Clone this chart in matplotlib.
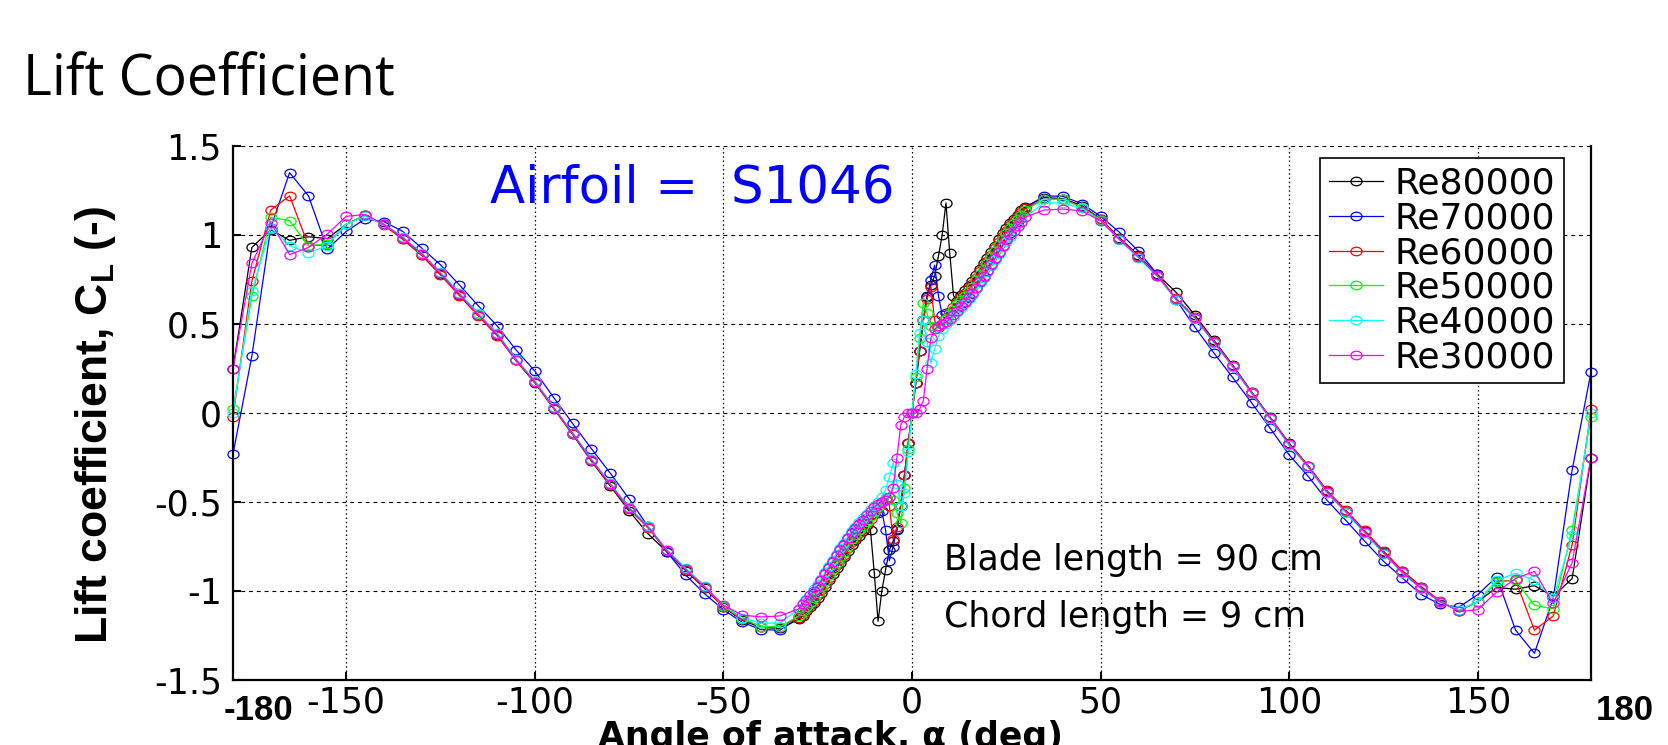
import numpy as np
import matplotlib
matplotlib.use('Agg')
import matplotlib.pyplot as plt
from matplotlib.path import Path
from matplotlib.transforms import Affine2D

plt.rcParams.update({
    'font.family': 'DejaVu Sans',
    'axes.unicode_minus': False,
    'mathtext.fontset': 'custom',
    'mathtext.rm': 'Liberation Sans:bold',
    'mathtext.it': 'Liberation Sans:bold',
    'mathtext.bf': 'Liberation Sans:bold',
})

# angle grids (deg): coarse 5 deg steps outside, 1 deg steps around zero
ANGLE_NEG = np.arange(-180, -34, 5)
ANGLE_FINE = np.arange(-30, 31, 1)
ANGLE_POS = np.arange(35, 181, 5)

LABELS = ['Re80000', 'Re70000', 'Re60000', 'Re50000', 'Re40000', 'Re30000']
COLORS = ['#000000', '#0000ff', '#ff0000', '#00ff00', '#00ffff', '#ff00ff']

# Re80000
k_neg = [0.25, 0.93, 1.03, 0.97, 0.99, 0.98, 1.06, 1.11, 1.06, 0.98, 0.89, 0.78, 0.665, 0.55, 0.44,
         0.295, 0.17, 0.025, -0.12, -0.27, -0.41, -0.55, -0.678, -0.78, -0.885, -0.985, -1.09, -1.165, -1.205, -1.21]
k_fine = [-1.16, -1.14, -1.115, -1.09, -1.065, -1.04, -1.01, -0.975, -0.94, -0.905, -0.87, -0.84, -0.81, -0.775, -0.74,
          -0.715, -0.69, -0.665, -0.63, -0.66, -0.90, -1.17, -1.0, -0.88, -0.77, -0.72, -0.66, -0.52, -0.35, -0.17,
          0.0,
          0.17, 0.35, 0.52, 0.66, 0.72, 0.77, 0.88, 1.0, 1.18, 0.90, 0.66, 0.63, 0.665, 0.69, 0.715,
          0.74, 0.775, 0.81, 0.84, 0.87, 0.905, 0.94, 0.975, 1.01, 1.04, 1.065, 1.09, 1.115, 1.14, 1.16]
k_pos = [1.21, 1.205, 1.165, 1.09, 0.985, 0.885, 0.78, 0.678, 0.55, 0.41, 0.27, 0.12, -0.025, -0.17, -0.295,
         -0.44, -0.55, -0.665, -0.78, -0.89, -0.98, -1.06, -1.11, -1.06, -0.98, -0.99, -0.97, -1.03, -0.93, -0.25]

# Re70000
b_neg = [-0.23, 0.32, 1.04, 1.35, 1.22, 0.92, 1.02, 1.09, 1.075, 1.02, 0.927, 0.833, 0.72, 0.603, 0.49,
         0.355, 0.236, 0.087, -0.058, -0.2, -0.338, -0.482, -0.637, -0.78, -0.91, -1.015, -1.105, -1.176, -1.217, -1.22]
b_fine = [-1.15, -1.115, -1.08, -1.045, -1.01, -0.975, -0.94, -0.90, -0.865, -0.83, -0.795, -0.765, -0.735, -0.70, -0.67,
          -0.645, -0.625, -0.61, -0.59, -0.575, -0.565, -0.56, -0.55, -0.66, -0.83, -0.75, -0.65, -0.52, -0.35, -0.17,
          0.0,
          0.17, 0.35, 0.52, 0.65, 0.75, 0.83, 0.66, 0.55, 0.56, 0.565, 0.575, 0.59, 0.61, 0.625, 0.645,
          0.67, 0.70, 0.735, 0.765, 0.795, 0.83, 0.865, 0.90, 0.94, 0.975, 1.01, 1.045, 1.08, 1.115, 1.15]
b_pos = [1.22, 1.217, 1.176, 1.105, 1.015, 0.91, 0.78, 0.637, 0.482, 0.338, 0.2, 0.058, -0.087, -0.236, -0.355,
         -0.49, -0.603, -0.72, -0.833, -0.927, -1.02, -1.075, -1.09, -1.02, -0.92, -1.22, -1.35, -1.04, -0.32, 0.23]

# Re60000
r_neg = [-0.02, 0.74, 1.14, 1.22, 0.94, 0.945, 1.06, 1.11, 1.055, 0.975, 0.885, 0.775, 0.66, 0.545, 0.435,
         0.295, 0.172, 0.028, -0.116, -0.265, -0.405, -0.54, -0.645, -0.776, -0.88, -0.98, -1.09, -1.16, -1.20, -1.20]
r_fine = [-1.15, -1.13, -1.105, -1.08, -1.055, -1.025, -0.995, -0.96, -0.925, -0.89, -0.855, -0.825, -0.795, -0.76, -0.725,
          -0.70, -0.675, -0.65, -0.625, -0.595, -0.565, -0.535, -0.50, -0.48, -0.52, -0.71, -0.64, -0.52, -0.35, -0.17,
          0.0,
          0.17, 0.35, 0.52, 0.64, 0.71, 0.52, 0.48, 0.50, 0.535, 0.565, 0.595, 0.625, 0.65, 0.675, 0.70,
          0.725, 0.76, 0.795, 0.825, 0.855, 0.89, 0.925, 0.96, 0.995, 1.025, 1.055, 1.08, 1.105, 1.13, 1.15]
r_pos = [1.20, 1.20, 1.16, 1.09, 0.98, 0.88, 0.776, 0.645, 0.54, 0.405, 0.265, 0.116, -0.028, -0.172, -0.295,
         -0.435, -0.545, -0.66, -0.775, -0.885, -0.975, -1.055, -1.11, -1.06, -0.945, -0.94, -1.22, -1.14, -0.74, 0.02]

# Re50000
g_neg = [0.02, 0.655, 1.10, 1.08, 0.94, 0.95, 1.06, 1.11, 1.06, 0.985, 0.895, 0.787, 0.67, 0.556, 0.445,
         0.30, 0.178, 0.03, -0.114, -0.262, -0.40, -0.535, -0.64, -0.772, -0.878, -0.975, -1.085, -1.155, -1.20, -1.20]
g_fine = [-1.14, -1.115, -1.09, -1.065, -1.04, -1.01, -0.98, -0.945, -0.91, -0.875, -0.84, -0.81, -0.78, -0.745, -0.71,
          -0.685, -0.66, -0.635, -0.61, -0.58, -0.555, -0.53, -0.50, -0.49, -0.47, -0.49, -0.56, -0.62, -0.42, -0.2,
          0.0,
          0.2, 0.42, 0.62, 0.56, 0.49, 0.47, 0.49, 0.50, 0.53, 0.555, 0.58, 0.61, 0.635, 0.66, 0.685,
          0.71, 0.745, 0.78, 0.81, 0.84, 0.875, 0.91, 0.945, 0.98, 1.01, 1.04, 1.065, 1.09, 1.115, 1.14]
g_pos = [1.20, 1.20, 1.155, 1.085, 0.975, 0.878, 0.772, 0.64, 0.535, 0.40, 0.262, 0.114, -0.03, -0.178, -0.30,
         -0.445, -0.556, -0.67, -0.787, -0.895, -0.985, -1.06, -1.11, -1.06, -0.95, -0.94, -1.08, -1.10, -0.655, -0.02]

# Re40000
c_neg = [0.0, 0.685, 1.04, 0.94, 0.90, 0.94, 1.06, 1.105, 1.06, 0.99, 0.90, 0.79, 0.675, 0.56, 0.45,
         0.305, 0.182, 0.035, -0.11, -0.258, -0.395, -0.53, -0.635, -0.768, -0.872, -0.97, -1.078, -1.15, -1.18, -1.18]
c_fine = [-1.10, -1.07, -1.045, -1.02, -0.99, -0.96, -0.93, -0.895, -0.86, -0.825, -0.79, -0.76, -0.73, -0.695, -0.665,
          -0.64, -0.615, -0.59, -0.565, -0.54, -0.52, -0.50, -0.47, -0.43, -0.36, -0.28, -0.40, -0.52, -0.45, -0.22,
          0.0,
          0.22, 0.45, 0.52, 0.40, 0.28, 0.36, 0.43, 0.47, 0.50, 0.52, 0.54, 0.565, 0.59, 0.615, 0.64,
          0.665, 0.695, 0.73, 0.76, 0.79, 0.825, 0.86, 0.895, 0.93, 0.96, 0.99, 1.02, 1.045, 1.07, 1.10]
c_pos = [1.18, 1.18, 1.15, 1.078, 0.97, 0.872, 0.768, 0.635, 0.53, 0.395, 0.258, 0.11, -0.035, -0.182, -0.305,
         -0.45, -0.56, -0.675, -0.79, -0.90, -0.99, -1.06, -1.105, -1.06, -0.94, -0.90, -0.94, -1.04, -0.685, 0.0]

# Re30000
m_neg = [0.25, 0.84, 1.07, 0.89, 0.93, 1.005, 1.105, 1.115, 1.06, 0.985, 0.895, 0.785, 0.668, 0.553, 0.443,
         0.30, 0.176, 0.03, -0.114, -0.262, -0.40, -0.535, -0.64, -0.772, -0.878, -0.975, -1.08, -1.135, -1.146, -1.14]
m_fine = [-1.10, -1.075, -1.05, -1.025, -1.0, -0.97, -0.94, -0.905, -0.87, -0.835, -0.80, -0.77, -0.74, -0.705, -0.675,
          -0.65, -0.625, -0.60, -0.575, -0.55, -0.53, -0.51, -0.50, -0.49, -0.47, -0.42, -0.25, -0.07, -0.02, 0.0,
          0.0,
          0.0, 0.02, 0.07, 0.25, 0.42, 0.47, 0.49, 0.50, 0.51, 0.53, 0.55, 0.575, 0.60, 0.625, 0.65,
          0.675, 0.705, 0.74, 0.77, 0.80, 0.835, 0.87, 0.905, 0.94, 0.97, 1.0, 1.025, 1.05, 1.075, 1.10]
m_pos = [1.14, 1.146, 1.135, 1.08, 0.975, 0.878, 0.772, 0.64, 0.535, 0.40, 0.262, 0.114, -0.03, -0.176, -0.30,
         -0.443, -0.553, -0.668, -0.785, -0.895, -0.985, -1.06, -1.115, -1.105, -1.005, -0.93, -0.89, -1.07, -0.84, -0.25]

XTICKS = [-150, -100, -50, 0, 50, 100, 150]
YTICKS = [-1.5, -1, -0.5, 0, 0.5, 1, 1.5]
YTICK_LABELS = ['-1.5', '-1', '-0.5', '0', '0.5', '1', '1.5']

SERIES = [
    (LABELS[0], COLORS[0], k_neg, k_fine, k_pos),
    (LABELS[1], COLORS[1], b_neg, b_fine, b_pos),
    (LABELS[2], COLORS[2], r_neg, r_fine, r_pos),
    (LABELS[3], COLORS[3], g_neg, g_fine, g_pos),
    (LABELS[4], COLORS[4], c_neg, c_fine, c_pos),
    (LABELS[5], COLORS[5], m_neg, m_fine, m_pos),
]

W, H = 1668, 745
fig = plt.figure(figsize=(W / 100, H / 100), dpi=100)
ax = fig.add_axes([233 / W, 1 - 680 / H, (1591 - 233) / W, (680 - 146) / H])

# slightly wide open circles, like the stretched original export
ell = Path.unit_circle().transformed(Affine2D().scale(1.3, 1.0))

angles = np.concatenate([ANGLE_NEG, ANGLE_FINE, ANGLE_POS])
for label, color, neg, fine, pos in SERIES:
    cl = np.concatenate([neg, fine, pos])
    ax.plot(angles, cl, color=color, lw=0.9, marker=ell, ms=8,
            mfc='none', mec=color, mew=0.9, label=label, clip_on=False)

ax.set_xlim(-180, 180)
ax.set_ylim(-1.5, 1.5)
ax.set_xticks(XTICKS)
ax.set_xticklabels([str(t) for t in XTICKS])
ax.set_yticks(YTICKS)
ax.set_yticklabels(YTICK_LABELS)
ax.tick_params(axis='both', direction='in', length=6, width=1.5, labelsize=25)
ax.tick_params(axis='x', pad=4)
ax.tick_params(axis='y', pad=8)

ax.set_axisbelow(True)
ax.xaxis.grid(True, color='k', lw=0.9, linestyle=(0, (1.2, 2.2)))
ax.yaxis.grid(True, color='k', lw=0.8, linestyle=(0, (3.5, 3.5)))
for side in ['left', 'bottom', 'right']:
    ax.spines[side].set_linewidth(1.6)
ax.spines['top'].set_visible(False)

leg = ax.legend(loc='upper right', bbox_to_anchor=(0.980, 0.978), borderaxespad=0,
                fontsize=26, frameon=True, fancybox=False, framealpha=1,
                edgecolor='k', handlelength=1.5, handletextpad=0.3,
                borderpad=0.25, labelspacing=0.02, numpoints=1)
leg.get_frame().set_linewidth(1.2)

ax.text(-112, 1.18, 'Airfoil =  S1046', color='#0000ff', fontsize=37, va='baseline')
ax.text(8.5, -0.88, 'Blade length = 90 cm', fontsize=25, va='baseline')
ax.text(8.5, -1.20, 'Chord length = 9 cm', fontsize=25, va='baseline')

fig.text(23 / W, 1 - 96 / H, 'Lift Coefficient', family='Open Sans', fontsize=40, va='baseline')
fig.text(96 / W, 1 - 425 / H, 'Lift coefficient, C$_{\\rm L}$ (-)', family='Liberation Sans',
         fontweight='bold', fontsize=32, rotation=90, ha='center', va='center')
fig.text(830 / W, 1 - 747 / H, 'Angle of attack, \u03b1 (deg)', fontweight='bold', fontsize=25,
         ha='center', va='baseline')
fig.text(258 / W, 1 - 711 / H, '-180', family=['Liberation Sans Narrow', 'Liberation Sans'],
         fontweight='bold', fontsize=25, ha='center', va='center')
fig.text(1625 / W, 1 - 711 / H, '180', family=['Liberation Sans Narrow', 'Liberation Sans'],
         fontweight='bold', fontsize=25, ha='center', va='center')

fig.savefig('out.png', dpi=100)
